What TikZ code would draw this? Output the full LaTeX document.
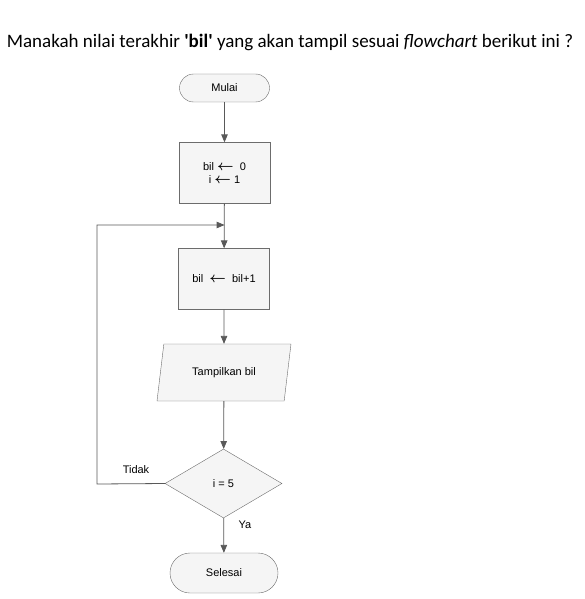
\documentclass[tikz,border=0pt]{standalone}
\usepackage{amsmath}
\usepackage{fontspec}
\setmainfont{Liberation Sans}
\newfontfamily\judulfont{Carlito}
\usetikzlibrary{shapes, shapes.geometric, arrows, positioning, calc}

\newcommand{\isi}{{\fontsize{15}{13}\selectfont$\boldsymbol{\leftarrow}$}}

\begin{document}
\begin{tikzpicture}[x=1pt, y=-1pt,
  kotak/.style={draw=gray!85!black, fill=gray!8, font=\fontsize{11}{13}\selectfont, align=center},
  terminal/.style={kotak, rectangle, rounded corners=14pt, minimum width=90pt, minimum height=28pt},
  proses/.style={kotak, rectangle, minimum width=91pt, minimum height=61pt},
  io/.style={kotak, trapezium, trapezium left angle=68, trapezium right angle=112,
             trapezium stretches body=true, minimum width=134pt, minimum height=57pt},
  keputusan/.style={kotak, diamond, minimum width=117pt, minimum height=69pt, inner sep=0pt},
  alir/.style={draw=black!65, line width=0.8pt, -triangle 45},
  label/.style={font=\fontsize{11}{13}\selectfont}]
\useasboundingbox (0,0) rectangle (584,599);

% judul soal
\node[font=\judulfont\fontsize{19}{22}\selectfont] (judul) at (290,42)
  {Manakah nilai terakhir \textbf{'bil'} yang akan tampil sesuai \textit{flowchart} berikut ini ?};

% simbol flowchart
\node[proses] (init) at (224.5,173) {bil \isi\ \ 0\\ i \isi\ 1};
\node[terminal] (mulai) at (224.5,88) {Mulai};
\node[proses] (tambah) at (224,279) {bil\ \ \isi\ \ bil+1};
\node[io] (tampil) at (224,372.5) {Tampilkan bil};
\node[keputusan] (cek) at (223.5,483.5) {i = 5};
\node[terminal, minimum width=108pt, minimum height=40pt, rounded corners=20pt] (selesai) at (224,573) {Selesai};

\coordinate (gabung) at (224.5,225);
\coordinate (kiri) at (97,484);

% garis alir
\draw[alir] (mulai) -- (init);
\draw[alir] (init) -- (tambah);
\draw[alir] (tambah) -- (tampil);
\draw[alir] (tampil) -- (cek);
\draw[alir] (cek) -- (selesai);
\draw[alir] (cek.west) -- (kiri) |- (gabung);

\node[label] (tidak) at (136,470) {Tidak};
\node[label] (ya) at (245,525) {Ya};
\end{tikzpicture}
\end{document}
